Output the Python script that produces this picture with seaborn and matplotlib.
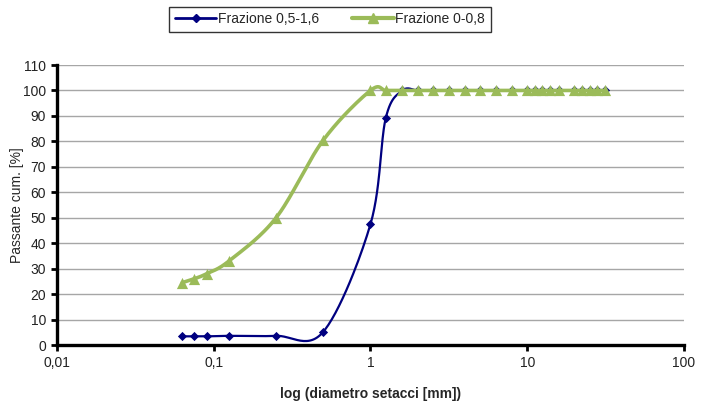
import numpy as np
import pandas as pd
import matplotlib
matplotlib.use('Agg')
import matplotlib.pyplot as plt
from matplotlib.lines import Line2D
from matplotlib.ticker import FixedLocator, FixedFormatter, NullLocator
import seaborn as sns

# Sieve sizes [mm]
diametri = [0.063, 0.075, 0.09, 0.125, 0.25, 0.5, 1, 1.25, 1.6, 2, 2.5, 3.15, 4, 5,
            6.3, 8, 10, 11.2, 12.5, 14, 16, 20, 22.4, 25, 28, 31.5]

# Cumulative passing [%]
frazione_05_16 = [3.4, 3.4, 3.4, 3.6, 3.6, 5.2, 47.5, 89, 100, 100, 100, 100, 100, 100,
                  100, 100, 100, 100, 100, 100, 100, 100, 100, 100, 100, 100]
frazione_0_08 = [24.5, 26, 28, 33, 50, 80.5, 100, 100, 100, 100, 100, 100, 100, 100,
                 100, 100, 100, 100, 100, 100, 100, 100, 100, 100, 100, 100]

serie = ["Frazione 0,5-1,6", "Frazione 0-0,8"]
colori = ["#000080", "#9BBB59"]

y_ticks = list(range(0, 111, 10))
x_ticks = [0.01, 0.1, 1, 10, 100]
x_labels = ["0,01", "0,1", "1", "10", "100"]


# Excel-like smoothed line (Catmull-Rom in log-x space)
def smooth(x, y, n=30):
    lx = np.log10(np.asarray(x, dtype=float))
    yy = np.asarray(y, dtype=float)
    p = np.column_stack([lx, yy])
    p = np.vstack([p[0], p, p[-1]])
    out = []
    t = np.linspace(0, 1, n)[:, None]
    for i in range(1, len(p) - 2):
        p0, p1, p2, p3 = p[i - 1], p[i], p[i + 1], p[i + 2]
        m1 = (p2 - p0) / 2
        m2 = (p3 - p1) / 2
        h00 = 2 * t**3 - 3 * t**2 + 1
        h10 = t**3 - 2 * t**2 + t
        h01 = -2 * t**3 + 3 * t**2
        h11 = t**3 - t**2
        out.append(h00 * p1 + h10 * m1 + h01 * p2 + h11 * m2)
    out = np.vstack(out)
    return pd.DataFrame({"x": 10 ** out[:, 0], "y": out[:, 1]})


sns.set_style("white")
plt.rcParams['font.family'] = ['Liberation Sans', 'DejaVu Sans']

fig = plt.figure(figsize=(7.09, 4.03), dpi=100)
ax = fig.add_axes([0.0804, 0.1439, 0.8843, 0.6948])

# Blue series
curva_b = smooth(diametri, frazione_05_16)
sns.lineplot(data=curva_b, x="x", y="y", sort=False, color=colori[0], linewidth=1.6, ax=ax, zorder=3)
sns.scatterplot(x=diametri, y=frazione_05_16, marker="D", s=22, color=colori[0], linewidth=0, ax=ax, zorder=4)

# Green series
curva_g = smooth(diametri, frazione_0_08)
sns.lineplot(data=curva_g, x="x", y="y", sort=False, color=colori[1], linewidth=2.6, ax=ax, zorder=5)
sns.scatterplot(x=diametri, y=frazione_0_08, marker="^", s=65, color=colori[1], linewidth=0, ax=ax, zorder=6)

ax.set_xscale("log")
ax.set_xlim(0.01, 100)
ax.set_ylim(0, 110)
ax.xaxis.set_major_locator(FixedLocator(x_ticks))
ax.xaxis.set_major_formatter(FixedFormatter(x_labels))
ax.xaxis.set_minor_locator(NullLocator())
ax.set_yticks(y_ticks)

ax.grid(False)
for v in y_ticks[1:]:
    ax.axhline(v, color="#a6a6a6", linewidth=1, zorder=1)

for s in ["top", "right"]:
    ax.spines[s].set_visible(False)
for s in ["left", "bottom"]:
    ax.spines[s].set_color("black")
    ax.spines[s].set_linewidth(2.4)
ax.spines["left"].set_zorder(7)
ax.spines["bottom"].set_zorder(7)

ax.tick_params(axis="both", which="major", direction="out", length=4, width=2,
               color="black", labelsize=10, labelcolor="#222222", pad=4, bottom=True, left=True)

ax.set_xlabel("log (diametro setacci [mm])", fontsize=10, fontweight="bold", labelpad=12)
ax.set_ylabel("Passante cum. [%]", fontsize=10)
ax.yaxis.set_label_coords(-0.052, 0.5)

handles = [
    Line2D([], [], color=colori[0], linewidth=2, marker="D", markersize=4),
    Line2D([], [], color=colori[1], linewidth=3, marker="^", markersize=7),
]
leg = fig.legend(handles, serie, loc="center", bbox_to_anchor=(0.4654, 0.952), ncol=2,
                 frameon=True, fancybox=False, edgecolor="black", fontsize=10,
                 handlelength=3.0, handletextpad=0.1, columnspacing=2.4, borderpad=0.4,
                 borderaxespad=0, markerfirst=True)
leg.get_frame().set_linewidth(1)

fig.savefig("out.png", dpi=100)
plt.close(fig)
